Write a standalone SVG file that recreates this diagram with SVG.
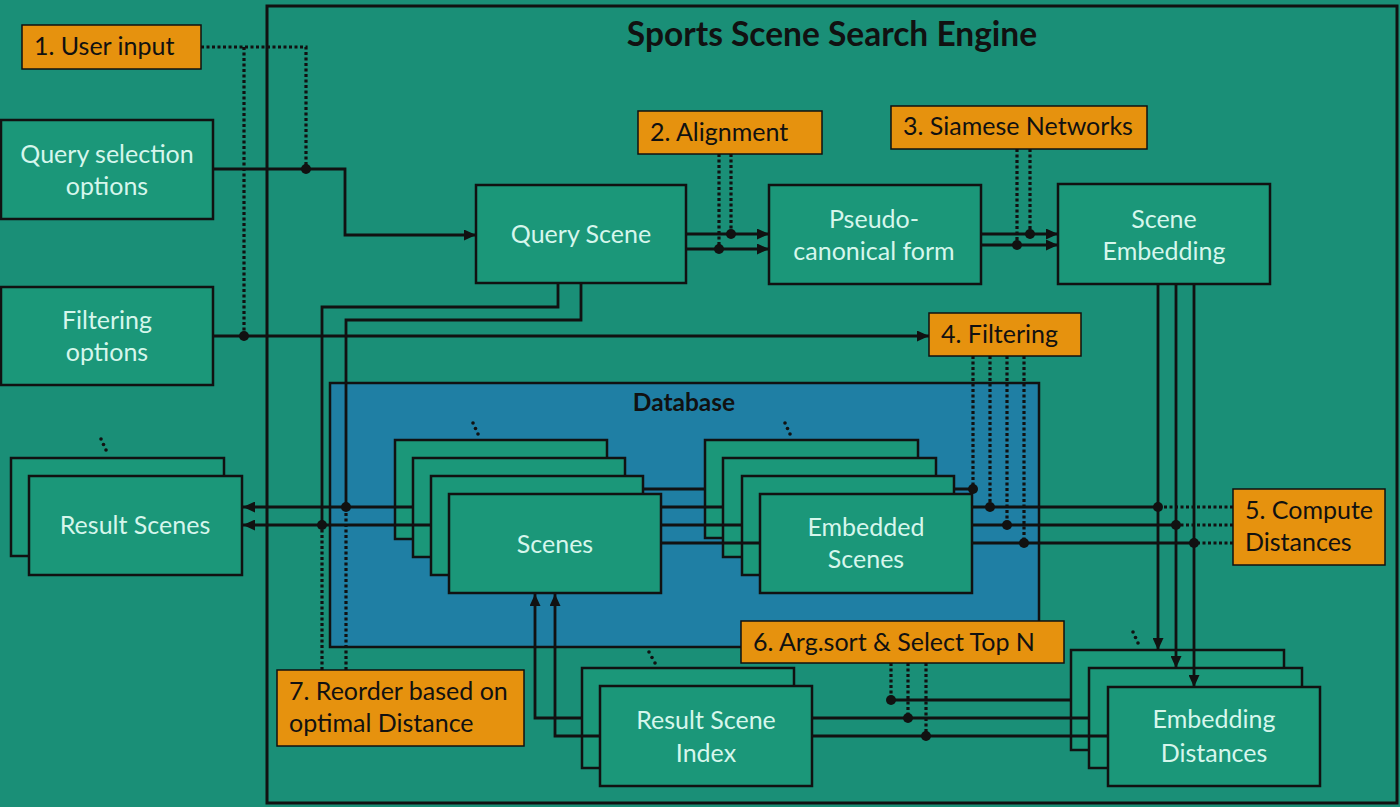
<svg xmlns="http://www.w3.org/2000/svg" width="1400" height="807" viewBox="0 0 1400 807">
<style>
.node{fill:#1b9779;stroke:#111;stroke-width:2.5}
.lab{fill:#e6920e;stroke:#111;stroke-width:1.5}
.t{font-family:Lato,"Liberation Sans",sans-serif;font-size:25px;fill:#d6f6ec;text-anchor:middle}
.k{font-family:Lato,"Liberation Sans",sans-serif;font-size:25px;fill:#111}
.b{font-family:Lato,"Liberation Sans",sans-serif;font-weight:bold;fill:#111;text-anchor:middle}
.c{fill:none;stroke:#111;stroke-width:2.8}
.d{fill:none;stroke:#111;stroke-width:3.2;stroke-dasharray:3 2.5}
.a{marker-end:url(#ah)}
.dot{fill:#111}
</style>
<defs>
<marker id="ah" markerUnits="userSpaceOnUse" markerWidth="12" markerHeight="11" refX="12" refY="5.5" orient="auto">
<path d="M0,0 L12,5.5 L0,11 z" fill="#111"/>
</marker>
</defs>
<rect width="1400" height="807" fill="#1a8f77"/>
<g id="engine-frame">
<rect x="267" y="6" width="1130" height="797" fill="none" stroke="#111" stroke-width="3"/>
<text class="b" x="832" y="46" font-size="33.5">Sports Scene Search Engine</text>
</g>
<g id="database">
<rect x="330" y="383" width="709" height="264" fill="#1f7fa4" stroke="#111" stroke-width="2.5"/>
<text class="b" x="684" y="411" font-size="24.5">Database</text>
</g>
<g id="query-selection-options">
<rect class="node" x="1" y="120" width="212" height="99"/>
<text class="t" x="107" y="163">Query selection</text>
<text class="t" x="107" y="195">options</text>
</g>
<g id="filtering-options">
<rect class="node" x="1" y="287" width="212" height="98"/>
<text class="t" x="107" y="329">Filtering</text>
<text class="t" x="107" y="361">options</text>
</g>
<g id="result-scenes">
<circle class="dot" cx="101" cy="439" r="1.8"/><circle class="dot" cx="103.5" cy="444.5" r="1.8"/><circle class="dot" cx="106" cy="450" r="1.8"/>
<rect class="node" x="11" y="458" width="213" height="98"/>
<rect class="node" x="29" y="476" width="213" height="99"/>
<text class="t" x="135" y="534">Result Scenes</text>
</g>
<g id="query-scene">
<rect class="node" x="476" y="185" width="210" height="98"/>
<text class="t" x="581" y="243">Query Scene</text>
</g>
<g id="pseudo-canonical-form">
<rect class="node" x="769" y="185" width="212" height="99"/>
<text class="t" x="874" y="228">Pseudo-</text>
<text class="t" x="874" y="260">canonical form</text>
</g>
<g id="scene-embedding">
<rect class="node" x="1058" y="184" width="212" height="100"/>
<text class="t" x="1164" y="228">Scene</text>
<text class="t" x="1164" y="260">Embedding</text>
</g>
<g id="scenes">
<circle class="dot" cx="473" cy="423" r="1.8"/><circle class="dot" cx="475.5" cy="428.5" r="1.8"/><circle class="dot" cx="478" cy="434" r="1.8"/>
<rect class="node" x="395" y="440" width="212" height="99"/>
<rect class="node" x="413" y="458" width="212" height="99"/>
<rect class="node" x="431" y="476" width="212" height="99"/>
<rect class="node" x="449" y="494" width="212" height="99"/>
<text class="t" x="555" y="553">Scenes</text>
</g>
<g id="embedded-scenes">
<circle class="dot" cx="785" cy="423" r="1.8"/><circle class="dot" cx="787.5" cy="428.5" r="1.8"/><circle class="dot" cx="790" cy="434" r="1.8"/>
<rect class="node" x="705" y="440" width="213" height="98"/>
<rect class="node" x="723" y="458" width="213" height="99"/>
<rect class="node" x="742" y="476" width="212" height="99"/>
<rect class="node" x="760" y="494" width="212" height="99"/>
<text class="t" x="866" y="536">Embedded</text>
<text class="t" x="866" y="568">Scenes</text>
</g>
<g id="result-scene-index">
<circle class="dot" cx="649" cy="652" r="1.8"/><circle class="dot" cx="652" cy="657.5" r="1.8"/><circle class="dot" cx="655" cy="663" r="1.8"/>
<rect class="node" x="582" y="668" width="212" height="100"/>
<rect class="node" x="600" y="686" width="212" height="100"/>
<text class="t" x="706" y="729">Result Scene</text>
<text class="t" x="706" y="762">Index</text>
</g>
<g id="embedding-distances">
<circle class="dot" cx="1133" cy="632" r="1.8"/><circle class="dot" cx="1135.5" cy="637.5" r="1.8"/><circle class="dot" cx="1138" cy="643" r="1.8"/>
<rect class="node" x="1071" y="650" width="213" height="100"/>
<rect class="node" x="1089" y="668" width="213" height="100"/>
<rect class="node" x="1108" y="687" width="212" height="99"/>
<text class="t" x="1214" y="728">Embedding</text>
<text class="t" x="1214" y="762">Distances</text>
</g>
<g id="connectors">
<path class="d" d="M201,47 H306 V169 M244,47 V336"/>
<path class="c a" d="M213,169 H345 V235 H476"/>
<path class="c a" d="M213,336 H929"/>
<path class="c a" d="M686,234 H769"/>
<path class="c a" d="M686,249 H769"/>
<path class="d" d="M731,154 V234 M719,154 V249"/>
<path class="c a" d="M981,234 H1058"/>
<path class="c a" d="M981,245 H1058"/>
<path class="d" d="M1030,149 V234 M1017,149 V245"/>
<path class="c a" d="M1158,284 V650"/>
<path class="c a" d="M1176,284 V668"/>
<path class="c a" d="M1194,284 V687"/>
<path class="c" d="M558,283 V307 H322 V525 M581,283 V320 H346 V507"/>
<path class="c a" d="M431,525 H243"/>
<path class="c a" d="M413,507 H243"/>
<path class="d" d="M322,670 V525 M346,670 V507"/>
<path class="c" d="M643,489 H705 M661,507 H723 M661,525 H742 M661,543 H760"/>
<path class="c" d="M954,489 H973 M972,507 H1158 M972,525 H1176 M972,543 H1194"/>
<path class="d" d="M973,356 V489 M990,356 V507 M1007,356 V525 M1024,356 V543"/>
<path class="d" d="M1233,507 H1158 M1233,525 H1176 M1233,543 H1194"/>
<path class="c" d="M1071,700 H891 M1089,718 H812 M1108,736 H812"/>
<path class="d" d="M891,663 V700 M908,663 V718 M926,663 V736"/>
<path class="c a" d="M582,718 H535 V594"/>
<path class="c a" d="M600,736 H555 V594"/>
<g class="dot">
<circle cx="306" cy="169" r="5"/><circle cx="244" cy="336" r="5"/>
<circle cx="731" cy="234" r="5"/><circle cx="719" cy="249" r="5"/>
<circle cx="1030" cy="234" r="5"/><circle cx="1017" cy="245" r="5"/>
<circle cx="322" cy="525" r="5"/><circle cx="346" cy="507" r="5"/>
<circle cx="973" cy="489" r="5"/><circle cx="990" cy="507" r="5"/><circle cx="1007" cy="525" r="5"/><circle cx="1024" cy="543" r="5"/>
<circle cx="1158" cy="507" r="5"/><circle cx="1176" cy="525" r="5"/><circle cx="1194" cy="543" r="5"/>
<circle cx="891" cy="700" r="5"/><circle cx="908" cy="718" r="5"/><circle cx="926" cy="736" r="5"/>
</g>
</g>
<g id="step-1-user-input">
<rect class="lab" x="22" y="25" width="179" height="44"/>
<text class="k" x="34" y="55">1. User input</text>
</g>
<g id="step-2-alignment">
<rect class="lab" x="638" y="111" width="184" height="43"/>
<text class="k" x="650" y="141">2. Alignment</text>
</g>
<g id="step-3-siamese-networks">
<rect class="lab" x="891" y="106" width="256" height="43"/>
<text class="k" x="903" y="135">3. Siamese Networks</text>
</g>
<g id="step-4-filtering">
<rect class="lab" x="929" y="313" width="152" height="43"/>
<text class="k" x="941" y="343">4. Filtering</text>
</g>
<g id="step-5-compute-distances">
<rect class="lab" x="1233" y="489" width="152" height="76"/>
<text class="k" x="1245" y="519">5. Compute</text>
<text class="k" x="1245" y="551">Distances</text>
</g>
<g id="step-6-argsort">
<rect class="lab" x="741" y="621" width="323" height="42"/>
<text class="k" x="753" y="651">6. Arg.sort &amp; Select Top N</text>
</g>
<g id="step-7-reorder">
<rect class="lab" x="277" y="670" width="247" height="76"/>
<text class="k" x="289" y="700">7. Reorder based on</text>
<text class="k" x="289" y="732">optimal Distance</text>
</g>
</svg>
